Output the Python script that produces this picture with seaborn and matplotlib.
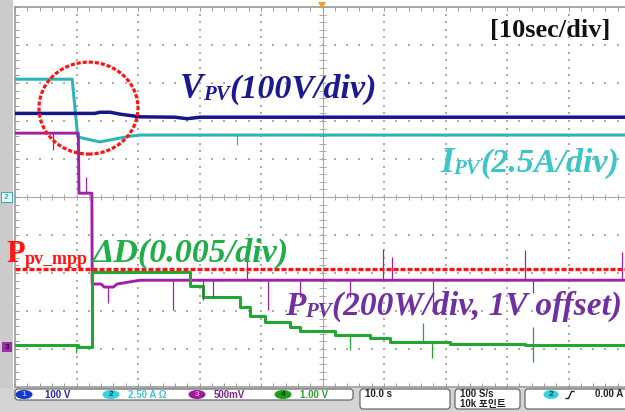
import numpy as np
import matplotlib
matplotlib.use("Agg")
import matplotlib.pyplot as plt
import seaborn as sns
from matplotlib.patches import Ellipse, Rectangle, FancyBboxPatch, Polygon
from matplotlib.lines import Line2D
from matplotlib.transforms import Affine2D

# ---- scope traces: time in s (10 s/div), level in divisions (-5..5) ----
t_vpv = [0, 13.0, 13.8, 15.5, 17.1, 20.3, 26.0, 28.0, 30.1, 100]
v_vpv = [2.20, 2.20, 2.23, 2.23, 2.18, 2.11, 2.10, 2.06, 2.10, 2.10]

t_ipv = [0, 9.3, 10.2, 11.0, 13.8, 18.7, 20.3, 100]
v_ipv = [3.10, 3.10, 1.58, 1.55, 1.45, 1.60, 1.63, 1.63]

t_ppv = [0, 10.3, 10.4, 12.5, 12.55, 14.0, 14.5, 16.0, 16.6, 20.3, 100]
v_ppv = [1.68, 1.68, 0.10, 0.10, -2.29, -2.29, -2.37, -2.37, -2.29, -2.19, -2.19]

t_dd = [0, 10.2, 12.5, 28.5, 30.6, 36.6, 38.2, 40.7, 44.7, 46.3, 52.0, 57.7, 61.0, 70.7, 82.9, 100]
v_dd = [-3.89, -3.95, -1.97, -2.34, -2.63, -2.89, -3.13, -3.29, -3.42, -3.53, -3.63, -3.71, -3.82, -3.87, -3.89, -3.89]

ppv_mpp = -1.89

# glitches on the traces: time and tip level
ppv_spike_t = [6.2, 11.5, 15.1, 25.7, 30.6, 32.2, 37.7, 41.1, 46.3, 54.5, 59.8, 61.3, 68.0, 82.9, 84.2, 98.7]
ppv_spike_tip = [1.24, 0.53, -2.79, -2.97, -2.71, -2.63, -1.47, -2.97, -2.63, -2.63, -1.37, -1.58, -3.0, -1.39, -2.53, -1.45]
dd_spike_t = [9.9, 54.5, 66.3, 67.8, 84.2, 84.2]
dd_spike_tip = [-4.10, -4.03, -3.32, -4.24, -4.34, -3.42]
ipv_spike_t = [36.1]
ipv_spike_tip = [1.37]

# channel readouts
ch_names = ["1", "2", "3", "4"]
ch_scales = ["100 V", "2.50 A \u03a9", "500mV", "1.00 V"]
time_scale = "10.0 s"
sample_rate = "100 S/s"
record_len = "10k 포인트"
trig_level = "0.00 A"

C_V = "#16168a"
C_I = "#2fb4b4"
C_P = "#a020a8"
C_D = "#22a832"
C_RED = "#ff1414"

W, H = 625, 412
fig = plt.figure(figsize=(W / 100, H / 100), dpi=100, facecolor="white")
pix = Affine2D().scale(1 / W, -1 / H).translate(0, 1) + fig.transFigure
renderer = fig.canvas.get_renderer()

# frame surroundings
fig.patches.append(Rectangle((0, 0), 13, 390, transform=pix, facecolor="#cbcbcb", edgecolor="none"))
fig.patches.append(Rectangle((0, 388), W, 24, transform=pix, facecolor="#d4d4d4", edgecolor="none"))

ax = fig.add_axes([15 / W, 25 / H, 615 / W, 380 / H])
ax.set_xlim(0, 100)
ax.set_ylim(-5, 5)
ax.set_facecolor("white")
for s in ax.spines.values():
    s.set_color("#9a9a9a")
    s.set_linewidth(1.2)
ax.set_xticks(np.arange(0, 100.1, 2))
ax.set_yticks(np.arange(-5, 5.01, 0.2))
ax.tick_params(direction="in", length=3, width=0.7, color="#9a9a9a",
               top=True, right=True, labelbottom=False, labelleft=False)

# dotted graticule
gx, gy = [], []
for xm in range(10, 100, 10):
    if xm == 50:
        continue
    for yy in np.arange(-5, 5.01, 0.2):
        gx.append(xm); gy.append(yy)
for ym in range(-4, 5):
    if ym == 0:
        continue
    for xx in np.arange(0, 100.1, 2):
        gx.append(xx); gy.append(ym)
ax.scatter(gx, gy, s=1.5, marker="s", color="#acacac", linewidths=0, zorder=1)

# centre crosshair with minor ticks
ax.axvline(50, color="#a8a8a8", lw=0.8, zorder=1)
ax.axhline(0, color="#a8a8a8", lw=0.8, zorder=1)
ax.hlines(np.arange(-5, 5.01, 0.2), 49.5, 50.5, color="#a8a8a8", lw=0.7, zorder=1)
ax.vlines(np.arange(0, 100.1, 2), -0.08, 0.08, color="#a8a8a8", lw=0.7, zorder=1)

# traces
sns.lineplot(x=t_ipv, y=v_ipv, sort=False, estimator=None, color=C_I, lw=2.2, ax=ax, zorder=3)
sns.lineplot(x=t_vpv, y=v_vpv, sort=False, estimator=None, color=C_V, lw=2.5, ax=ax, zorder=3)
sns.lineplot(x=t_ppv, y=v_ppv, sort=False, estimator=None, color=C_P, lw=2.1, ax=ax, zorder=4)
sns.lineplot(x=t_dd, y=v_dd, sort=False, estimator=None, color=C_D, lw=2.2,
             drawstyle="steps-post", ax=ax, zorder=4)

ax.vlines(ppv_spike_t, np.interp(ppv_spike_t, t_ppv, v_ppv), ppv_spike_tip, color=C_P, lw=0.9, zorder=4)
dd_base = [v_dd[np.searchsorted(t_dd, t, side="right") - 1] for t in dd_spike_t]
ax.vlines(dd_spike_t, dd_base, dd_spike_tip, color=C_D, lw=0.9, zorder=4)
ax.vlines(ipv_spike_t, np.interp(ipv_spike_t, t_ipv, v_ipv), ipv_spike_tip, color=C_I, lw=0.9, zorder=3)

# MPP reference and highlighted transient
ax.axhline(ppv_mpp, color=C_RED, lw=2.4, ls=(0, (1.5, 0.6)), zorder=5)
ax.add_patch(Ellipse((11.95, 2.34), 16.1, 2.42, fill=False, edgecolor=C_RED,
                     lw=2.3, ls=(0, (1.3, 0.6)), zorder=6, clip_on=False))
ax.set_xlabel("")
ax.set_ylabel("")


def label(x, y, pieces, color, style="italic"):
    for text, size, dy in pieces:
        t = fig.text(x, y + dy, text, transform=pix, fontsize=size, color=color,
                     family="Liberation Serif", weight="bold", style=style,
                     va="baseline", ha="left", zorder=10)
        x += t.get_window_extent(renderer).width


label(180, 98, [("V", 25, 0), ("PV", 15, 2), ("(100V/div)", 24.5, 0)], "#1a1a8e")
label(440, 172, [("I", 25, 0), ("PV", 15, 2), ("(2.5A/div)", 24.5, 0)], "#3cc6c6")
label(92, 262, [("\u0394D(0.005/div)", 24.5, 0)], "#1fae48")
label(285, 315, [("P", 24, 0), ("PV", 15, 2), ("(200W/div, 1V offset)", 24, 0)], "#7030a0")
label(6, 262, [("P", 22, 0), ("pv_mpp", 13, 2)], C_RED, style="normal")
label(490, 37, [("[10sec/div]", 19, 0)], "#111111", style="normal")

# trigger position marker and channel ground markers
fig.patches.append(Polygon([(318, 2), (326, 2), (322, 9)], closed=True, transform=pix,
                           facecolor="#f0a020", edgecolor="none"))
fig.patches.append(Rectangle((1, 192), 11, 10, transform=pix, facecolor="#eaf8f8",
                             edgecolor=C_I, lw=0.8))
fig.text(6.5, 197.5, "2", transform=pix, fontsize=6, color=C_I, ha="center", va="center",
         family="Liberation Sans", weight="bold")
fig.patches.append(Rectangle((2, 342), 10, 10, transform=pix, facecolor="#a030a8",
                             edgecolor="none"))
fig.text(7, 347.5, "3", transform=pix, fontsize=6, color="#2a0a2a", ha="center", va="center",
         family="Liberation Sans", weight="bold")

# status bar
def box(x0, y0, x1, y1):
    fig.patches.append(FancyBboxPatch((x0, y0), x1 - x0, y1 - y0,
                                      boxstyle="round,pad=0,rounding_size=3", transform=pix,
                                      facecolor="white", edgecolor="#5a5a5a", lw=0.8))

box(15, 389, 353, 400)
box(360, 389, 450, 409)
box(455, 389, 520, 409)
box(525, 389, 640, 409)

badge_col = ["#1638c8", "#38d0dc", "#9a1a9a", "#18a018"]
badge_txt = ["#9ab0ff", "#0a4a50", "#e0a0e0", "#063806"]
badge_x = [24, 111, 197, 283]
text_x = [45, 128, 214, 300]
text_col = ["#2828a0", "#40c4d4", "#7a2888", "#30a030"]
for i in range(4):
    fig.patches.append(Ellipse((badge_x[i], 394.5), 17, 9, transform=pix,
                               facecolor=badge_col[i], edgecolor="none"))
    fig.text(badge_x[i], 394.8, ch_names[i], transform=pix, fontsize=6, color=badge_txt[i],
             ha="center", va="center", family="Liberation Sans", weight="bold")
    fig.text(text_x[i], 394.8, ch_scales[i], transform=pix, fontsize=7, color=text_col[i],
             ha="left", va="center", family=["Liberation Sans", "DejaVu Sans"], weight="bold")

fig.text(365, 394.5, time_scale, transform=pix, fontsize=7, color="#222222", ha="left",
         va="center", family="Liberation Sans", weight="bold")
fig.text(460, 394.5, sample_rate, transform=pix, fontsize=7, color="#222222", ha="left",
         va="center", family="Liberation Sans", weight="bold")
fig.text(460, 404, record_len, transform=pix, fontsize=7, color="#222222", ha="left",
         va="center", family=["Liberation Sans", "Noto Sans CJK KR"], weight="bold")
fig.patches.append(Ellipse((551, 394.5), 15, 9, transform=pix, facecolor="#38d0dc",
                           edgecolor="none"))
fig.text(551, 394.8, "2", transform=pix, fontsize=6, color="#0a4a50", ha="center",
         va="center", family="Liberation Sans", weight="bold")
fig.lines.append(Line2D([566, 568.5, 571.5, 574], [398.5, 398.5, 391.5, 391.5],
                        transform=pix, color="#222222", lw=1.0))
fig.text(595, 394.5, trig_level, transform=pix, fontsize=7, color="#222222", ha="left",
         va="center", family="Liberation Sans", weight="bold")

fig.savefig("out.png", dpi=100)
